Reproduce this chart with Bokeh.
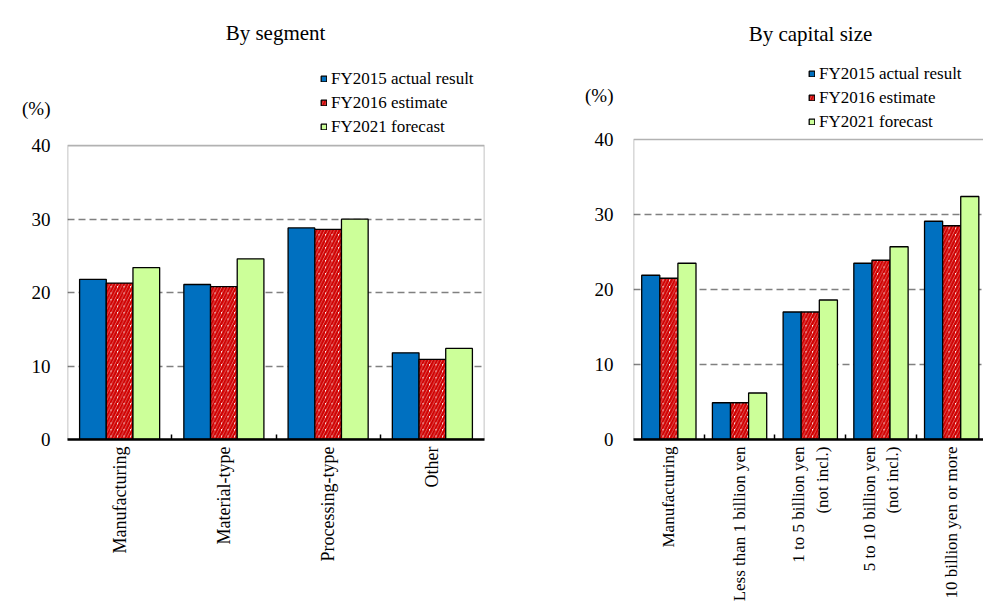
from math import pi

from bokeh.embed import file_html
from bokeh.layouts import row
from bokeh.models import (BoxAnnotation, FixedTicker, Label, Legend,
                          LegendItem, Range1d)
from bokeh.plotting import figure
from bokeh.resources import INLINE

# ---- data -------------------------------------------------------------
series_names = ["FY2015 actual result", "FY2016 estimate", "FY2021 forecast"]

segment_categories = ["Manufacturing", "Material-type", "Processing-type", "Other"]
segment_fy2015 = [21.8, 21.1, 28.8, 11.8]
segment_fy2016 = [21.3, 20.8, 28.6, 10.9]
segment_fy2021 = [23.4, 24.6, 30.0, 12.4]

capital_categories = [
    "Manufacturing",
    "Less than 1 billion yen",
    "1 to 5 billion yen\n(not incl.)",
    "5 to 10 billion yen\n(not incl.)",
    "10 billion yen or more",
]
capital_fy2015 = [21.9, 4.9, 17.0, 23.5, 29.1]
capital_fy2016 = [21.5, 4.9, 17.0, 23.9, 28.5]
capital_fy2021 = [23.5, 6.2, 18.6, 25.7, 32.4]

y_ticks = [0, 10, 20, 30, 40]
grid_ticks = [10, 20, 30]
y_max = 40

# ---- styling -----------------------------------------------------------
SERIF = "Liberation Serif"
BLUE = "#0070C0"
RED = "#D00000"
GREEN = "#CCFF99"
BAR_W = 0.256

bar_styles = [
    dict(fill_color=BLUE),
    dict(fill_color="white", hatch_pattern="/", hatch_color=RED,
         hatch_scale=6.5, hatch_weight=2.6),
    dict(fill_color=GREEN),
]


def make_panel(title, categories, series_values, *, width, border_left,
               border_right, border_bottom, box_px, x_end, title_pos,
               unit_level, legend_pos, tick_standoff, cat_font_size):
    """One bar panel; the frame reaches the top edge so the heading and
    legend sit inside it, while the drawn box stops at y_max."""
    n = len(categories)
    frame_h = 611 - border_bottom
    y_top = y_max * frame_h / box_px          # value at the frame's top edge
    p = figure(width=width, height=611, output_backend="svg",
               toolbar_location=None, x_range=Range1d(0, x_end),
               y_range=Range1d(0, y_top), min_border_left=border_left,
               min_border_right=border_right, min_border_top=0,
               min_border_bottom=border_bottom)
    p.background_fill_color = "white"
    p.border_fill_color = "white"
    p.outline_line_color = None

    items = []
    for k, (name, values, style) in enumerate(zip(series_names, series_values, bar_styles)):
        xs = [i + 0.5 + (k - 1) * BAR_W for i in range(n)]
        r = p.vbar(x=xs, top=values, width=BAR_W, line_color="black",
                   line_width=1.3, **style)
        items.append(LegendItem(label=name, renderers=[r]))

    # plot box from 0 to y_max
    p.add_layout(BoxAnnotation(left=0, right=n, bottom=0, top=y_max,
                               fill_alpha=0, line_color="black",
                               line_width=1.6, level="overlay"))

    legend = Legend(items=items, location=legend_pos, orientation="vertical",
                    padding=0, margin=0, spacing=3, glyph_width=7,
                    glyph_height=7, label_height=21, label_standoff=4,
                    label_text_font=SERIF, label_text_font_size="17px",
                    label_text_color="black", border_line_color=None,
                    background_fill_alpha=0)
    p.add_layout(legend)

    # y axis: value ticks plus the unit caption above the box
    p.yaxis.ticker = FixedTicker(ticks=y_ticks + [unit_level])
    p.yaxis.major_label_overrides = {unit_level: "(%)"}
    p.yaxis.major_label_text_font = SERIF
    p.yaxis.major_label_text_font_size = "19px"
    p.yaxis.major_label_text_color = "black"
    p.yaxis.major_label_standoff = tick_standoff
    p.yaxis.major_tick_in = 0
    p.yaxis.major_tick_out = 0
    p.yaxis.minor_tick_line_color = None
    p.yaxis.axis_line_color = None

    # x axis: category names at centres, inward separators between groups
    centres = [i + 0.5 for i in range(n)]
    p.xaxis.ticker = FixedTicker(ticks=centres, minor_ticks=list(range(1, n)))
    p.xaxis.major_label_overrides = {c: cat for c, cat in zip(centres, categories)}
    p.xaxis.major_label_orientation = pi / 2
    p.xaxis.major_label_text_font = SERIF
    p.xaxis.major_label_text_font_size = cat_font_size
    p.xaxis.major_label_text_color = "black"
    p.xaxis.major_label_text_line_height = 1.25
    p.xaxis.major_label_standoff = 7
    p.xaxis.major_tick_line_color = None
    p.xaxis.major_tick_in = 0
    p.xaxis.major_tick_out = 0
    p.xaxis.minor_tick_in = 5
    p.xaxis.minor_tick_out = 0
    p.xaxis.minor_tick_line_color = "black"
    p.xaxis.minor_tick_line_width = 1.5
    p.xaxis.axis_line_color = "black"
    p.xaxis.axis_line_width = 2.5

    p.xgrid.visible = False
    p.ygrid.ticker = FixedTicker(ticks=grid_ticks)
    p.ygrid.grid_line_color = "#808080"
    p.ygrid.grid_line_dash = "7 4"
    p.ygrid.grid_line_width = 1.3

    p.add_layout(Label(x=title_pos[0], y=title_pos[1], x_units="screen",
                       y_units="screen", text=title, text_align="center",
                       text_baseline="middle", text_font=SERIF,
                       text_font_size="21px", text_color="black"))
    return p


left = make_panel(
    "By segment", segment_categories,
    [segment_fy2015, segment_fy2016, segment_fy2021],
    width=500, border_left=67, border_right=16, border_bottom=171,
    box_px=294.5, x_end=len(segment_categories),
    title_pos=(208, 407), unit_level=45.1, legend_pos=(253, 302),
    tick_standoff=17, cat_font_size="18px")

right = make_panel(
    "By capital size", capital_categories,
    [capital_fy2015, capital_fy2016, capital_fy2021],
    width=483, border_left=133, border_right=0, border_bottom=172,
    box_px=300, x_end=4.95,
    title_pos=(177, 406), unit_level=45.9, legend_pos=(175, 307),
    tick_standoff=20, cat_font_size="17px")

layout = row(left, right)
open("out.html", "w").write(file_html(layout, INLINE))
